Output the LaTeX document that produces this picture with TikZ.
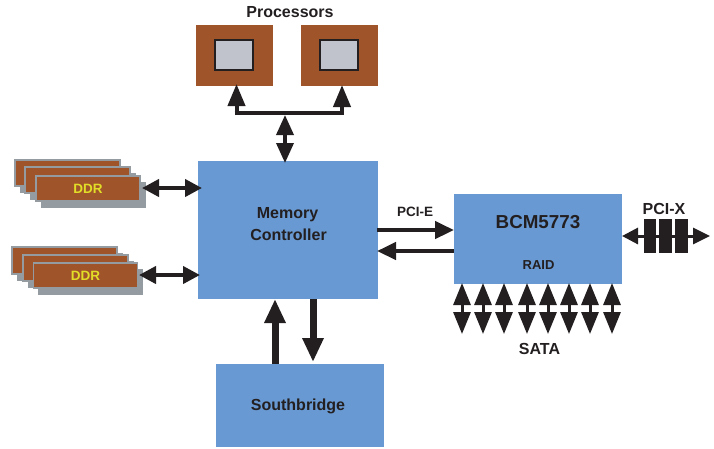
\documentclass[tikz,border=0pt]{standalone}
\usepackage{fontspec}
\setmainfont{Liberation Sans}
\usetikzlibrary{arrows.meta}
\definecolor{blu}{RGB}{104,153,210}
\definecolor{rust}{RGB}{160,84,42}
\definecolor{gry}{RGB}{148,155,161}
\definecolor{chip}{RGB}{192,195,203}
\definecolor{ink}{RGB}{35,31,32}
\definecolor{yel}{RGB}{226,222,40}
\tikzset{
  x=1pt,y=-1pt,
  blk/.style={fill=blu,draw=none,inner sep=0,font=\bfseries,text=ink},
  cpu/.style={fill=rust,draw=none,inner sep=0},
  core/.style={fill=chip,draw=ink,line width=2pt,inner sep=0},
  lbl/.style={font=\bfseries,text=ink,inner sep=0},
  dimm/.style={fill=rust,draw=gry,line width=1.4pt,inner sep=0,text=yel,font=\bfseries\fontsize{13.5}{15}\selectfont},
  shade/.style={fill=gry,draw=none,inner sep=0},
  slot/.style={fill=ink,draw=none,inner sep=0},
  bi/.style={draw=ink,line width=4pt,{Triangle[width=17pt,length=17pt]}-{Triangle[width=17pt,length=17pt]}},
  sata/.style={draw=ink,line width=3pt,{Triangle[width=17pt,length=22pt]}-{Triangle[width=17pt,length=22pt]}},
  one/.style={draw=ink,line width=4.5pt,-{Triangle[width=17pt,length=19pt]}},
  fat/.style={draw=ink,line width=7pt,-{Triangle[width=20pt,length=24pt]}},
  vbus/.style={draw=ink,line width=3.5pt,{Triangle[width=17pt,length=20pt]}-{Triangle[width=17pt,length=20pt]}},
  big/.style={font=\bfseries\fontsize{16}{19}\selectfont}
}
\begin{document}
\begin{tikzpicture}
\useasboundingbox (0,0) rectangle (714,448);
% main blocks
\node[blk,minimum width=180pt,minimum height=138pt] (mc) at (288,230) {};
\node[lbl,big] (mct1) at (287.5,214.5) {Memory};
\node[lbl,big] (mct2) at (288.5,234.5) {Controller};
\node[blk,minimum width=168pt,minimum height=83pt,big] (sb) at (300,405.5) {};
\node[lbl,big] (sbt) at (298,406) {Southbridge};
\node[blk,minimum width=168pt,minimum height=90pt] (bcm) at (538,239) {};
\node[lbl,font=\bfseries\fontsize{18.8}{22}\selectfont] (bcmt) at (538,222) {BCM5773};
\node[lbl,font=\bfseries\fontsize{13}{15}\selectfont] (raid) at (538.5,265.5) {RAID};
% processors
\node[cpu,minimum width=77pt,minimum height=61pt] (p1) at (234.5,55.5) {};
\node[cpu,minimum width=77pt,minimum height=61pt] (p2) at (339.5,55.5) {};
\node[core,minimum width=38.5pt,minimum height=30.5pt] (c1) at (234,55) {};
\node[core,minimum width=38.5pt,minimum height=30.5pt] (c2) at (339,55) {};
\node[lbl,big] (proc) at (290,12.5) {Processors};
% processor bus
\coordinate (j1) at (234.5,113);
\coordinate (j2) at (344,113);
\coordinate (j3) at (285,115);
\coordinate (p1b) at (236.5,84);
\coordinate (p2b) at (342,85);
\coordinate (mct) at (285,163);
\draw[draw=ink,line width=4pt] (j1) -- (j2);
\draw[draw=ink,line width=4pt,-{Triangle[width=17pt,length=22pt]}] (236.5,115) -- (p1b);
\draw[draw=ink,line width=4pt,-{Triangle[width=17pt,length=22pt]}] (342,115) -- (p2b);
\draw[vbus] (j3) -- (mct);
% DDR upper
\foreach \n/\a/\b/\c/\d in {a/15/160/120/186,b/25/167/130/193}{
  \node[shade,minimum width=\c pt-\a pt+1pt,minimum height=\d pt-\b pt+1pt] (u\n s) at ({(\a+\c)/2+5},{(\b+\d)/2+6}) {};
  \node[dimm,minimum width=\c pt-\a pt,minimum height=\d pt-\b pt] (u\n) at ({(\a+\c)/2},{(\b+\d)/2}) {};
}
\node[shade,minimum width=105pt,minimum height=26pt] (ucs) at (93,195) {};
\node[dimm,minimum width=104pt,minimum height=25pt] (uc) at (88,188.5) {DDR};
% DDR lower
\foreach \n/\a/\b/\c/\d in {a/12/247/117/274,b/23/255/128/281}{
  \node[shade,minimum width=\c pt-\a pt+1pt,minimum height=\d pt-\b pt+1pt] (l\n s) at ({(\a+\c)/2+5},{(\b+\d)/2+6}) {};
  \node[dimm,minimum width=\c pt-\a pt,minimum height=\d pt-\b pt] (l\n) at ({(\a+\c)/2},{(\b+\d)/2}) {};
}
\node[shade,minimum width=105pt,minimum height=26pt] (lcs) at (90.5,282) {};
\node[dimm,minimum width=104pt,minimum height=25pt] (lc) at (85.5,275.5) {DDR};
% DDR arrows
\coordinate (ua) at (142,188);
\coordinate (ub) at (202,188);
\coordinate (la) at (139,275);
\coordinate (lb) at (200,275);
\draw[bi] (ua) -- (ub);
\draw[bi] (la) -- (lb);
% PCI-E
\coordinate (e1) at (377,230);
\coordinate (e2) at (454,230);
\coordinate (e3) at (454,251);
\coordinate (e4) at (377,251);
\draw[one] (e1) -- (e2);
\draw[one] (e3) -- (e4);
\node[lbl,font=\bfseries\fontsize{13.5}{16}\selectfont] (pcie) at (415,212) {PCI-E};
% Southbridge link
\coordinate (s1) at (275,364);
\coordinate (s2) at (275,299);
\coordinate (s3) at (313,299);
\coordinate (s4) at (313,362);
\draw[fat] (s1) -- (s2);
\draw[fat] (s3) -- (s4);
% SATA
\foreach \i/\x in {1/462,2/483,3/504,4/527,5/548,6/569,7/590,8/612}{
  \coordinate (st\i) at (\x,283);
  \coordinate (sb\i) at (\x,334);
  \draw[sata] (st\i) -- (sb\i);
}
\node[lbl,big] (sata) at (539.5,348.5) {SATA};
% PCI-X
\coordinate (x1) at (622,236);
\coordinate (x2) at (710,236);
\draw[draw=ink,line width=3pt,{Triangle[width=16pt,length=16pt]}-{Triangle[width=16pt,length=17pt]}] (x1) -- (x2);
\node[slot,minimum width=12pt,minimum height=34pt] (x3) at (650,236) {};
\node[slot,minimum width=13pt,minimum height=34pt] (x4) at (665.5,236) {};
\node[slot,minimum width=13pt,minimum height=34pt] (x5) at (681,236) {};
\node[lbl,big] (pcix) at (664,208.5) {PCI-X};
\end{tikzpicture}
\end{document}
